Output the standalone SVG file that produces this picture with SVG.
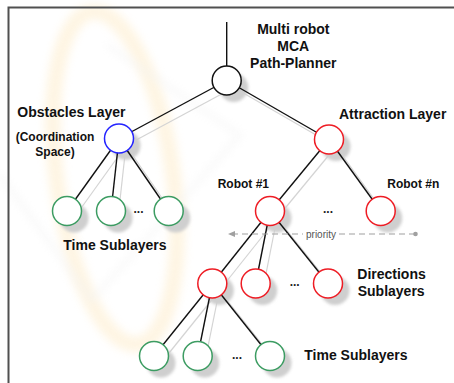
<svg xmlns="http://www.w3.org/2000/svg" width="454" height="383" viewBox="0 0 454 383">
<defs>
<filter id="blur" x="-50%" y="-50%" width="200%" height="200%"><feGaussianBlur stdDeviation="1.6"/></filter>
<filter id="wblur" x="-20%" y="-20%" width="140%" height="140%"><feGaussianBlur stdDeviation="4"/></filter>
<style>
.lbl{font-family:"Liberation Sans",Arial,sans-serif;font-weight:bold;fill:#111;}
.big{font-size:14px;}
.mid{font-size:12px;}
.dots{font-family:"Liberation Sans",Arial,sans-serif;font-weight:bold;font-size:12px;fill:#222;text-anchor:middle;}
.edge{stroke:#111;stroke-width:1.4;fill:none;}
.sedge{stroke:#d4d4d4;stroke-width:1.2;fill:none;}
.shadow{fill:#cfcfcf;filter:url(#blur);}
.node{fill:#fff;stroke-width:1.5;}
.blk{stroke:#111;}
.blu{stroke:#2424ff;}
.red{stroke:#ee1c24;}
.grn{stroke:#3c9c62;}
</style>
</defs>
<rect width="454" height="383" fill="#fff"/>
<!-- faint watermark -->
<g id="watermark" opacity="0.35">
<ellipse cx="115" cy="178" rx="58" ry="168" transform="rotate(-8 115 178)" fill="none" stroke="#fde3b0" stroke-width="16" filter="url(#wblur)"/>
<path d="M107,45 L240,135 L92,300 L0,175" fill="none" stroke="#e0e0e0" stroke-width="3" filter="url(#wblur)"/>
</g>
<!-- frame -->
<path d="M8.5,383 L8.5,7.5 L454,7.5" fill="none" stroke="#505050" stroke-width="2"/>
<!-- connectors -->
<g id="connectors">
<g id="shadow-edges">
<line class="sedge" x1="233.7" y1="87.5" x2="126" y2="145.5"/>
<line class="sedge" x1="233.7" y1="87.5" x2="336" y2="146.5"/>
<line class="sedge" x1="126" y1="145.5" x2="74" y2="218"/>
<line class="sedge" x1="126" y1="145.5" x2="118" y2="218"/>
<line class="sedge" x1="126" y1="145.5" x2="175.7" y2="218"/>
<line class="sedge" x1="336" y1="146.5" x2="277" y2="218"/>
<line class="sedge" x1="336" y1="146.5" x2="387.7" y2="218"/>
<line class="sedge" x1="277" y1="218" x2="219.3" y2="290.5"/>
<line class="sedge" x1="277" y1="218" x2="262.7" y2="290.5"/>
<line class="sedge" x1="277" y1="218" x2="335" y2="290.5"/>
<line class="sedge" x1="219.3" y1="290.5" x2="161" y2="363"/>
<line class="sedge" x1="219.3" y1="290.5" x2="204.7" y2="363"/>
<line class="sedge" x1="219.3" y1="290.5" x2="277" y2="363"/>
</g>
<g id="shadows">
<circle class="shadow" cx="233.7" cy="87.5" r="14.5"/>
<circle class="shadow" cx="126" cy="145.5" r="14.5"/>
<circle class="shadow" cx="336" cy="146.5" r="14.5"/>
<circle class="shadow" cx="74" cy="218" r="14.5"/>
<circle class="shadow" cx="118" cy="218" r="14.5"/>
<circle class="shadow" cx="175.7" cy="218" r="14.5"/>
<circle class="shadow" cx="277" cy="218" r="14.5"/>
<circle class="shadow" cx="387.7" cy="218" r="14.5"/>
<circle class="shadow" cx="219.3" cy="290.5" r="14.5"/>
<circle class="shadow" cx="262.7" cy="290.5" r="14.5"/>
<circle class="shadow" cx="335" cy="290.5" r="14.5"/>
<circle class="shadow" cx="161" cy="363" r="14.5"/>
<circle class="shadow" cx="204.7" cy="363" r="14.5"/>
<circle class="shadow" cx="277" cy="363" r="14.5"/>
</g>
<line class="edge" x1="226.7" y1="22" x2="226.7" y2="66"/>
<line class="edge" x1="226.7" y1="80.5" x2="119" y2="138.5"/>
<line class="edge" x1="226.7" y1="80.5" x2="329" y2="139.5"/>
<line class="edge" x1="119" y1="138.5" x2="67" y2="211"/>
<line class="edge" x1="119" y1="138.5" x2="111" y2="211"/>
<line class="edge" x1="119" y1="138.5" x2="168.7" y2="211"/>
<line class="edge" x1="329" y1="139.5" x2="270" y2="211"/>
<line class="edge" x1="329" y1="139.5" x2="380.7" y2="211"/>
<line class="edge" x1="270" y1="211" x2="212.3" y2="283.5"/>
<line class="edge" x1="270" y1="211" x2="255.7" y2="283.5"/>
<line class="edge" x1="270" y1="211" x2="328" y2="283.5"/>
<line class="edge" x1="212.3" y1="283.5" x2="154" y2="356"/>
<line class="edge" x1="212.3" y1="283.5" x2="197.7" y2="356"/>
<line class="edge" x1="212.3" y1="283.5" x2="270" y2="356"/>
</g>
<!-- nodes -->
<g id="root"><circle class="node blk" cx="226.7" cy="80.5" r="14.5"/></g>
<g id="obstacles"><circle class="node blu" cx="119" cy="138.5" r="14.5"/></g>
<g id="attraction"><circle class="node red" cx="329" cy="139.5" r="14.5"/></g>
<g id="obs-time-1"><circle class="node grn" cx="67" cy="211" r="14.5"/></g>
<g id="obs-time-2"><circle class="node grn" cx="111" cy="211" r="14.5"/></g>
<g id="obs-time-3"><circle class="node grn" cx="168.7" cy="211" r="14.5"/></g>
<g id="robot-1"><circle class="node red" cx="270" cy="211" r="14.5"/></g>
<g id="robot-n"><circle class="node red" cx="380.7" cy="211" r="14.5"/></g>
<g id="dir-1"><circle class="node red" cx="212.3" cy="283.5" r="14.5"/></g>
<g id="dir-2"><circle class="node red" cx="255.7" cy="283.5" r="14.5"/></g>
<g id="dir-3"><circle class="node red" cx="328" cy="283.5" r="14.5"/></g>
<g id="time-1"><circle class="node grn" cx="154" cy="356" r="14.5"/></g>
<g id="time-2"><circle class="node grn" cx="197.7" cy="356" r="14.5"/></g>
<g id="time-3"><circle class="node grn" cx="270" cy="356" r="14.5"/></g>
<!-- priority -->
<g id="priority">
<line x1="232" y1="234" x2="303" y2="234" stroke="#a0a0a0" stroke-width="1.2" stroke-dasharray="6,4"/>
<line x1="339" y1="234" x2="414" y2="234" stroke="#a0a0a0" stroke-width="1.2" stroke-dasharray="6,4"/>
<path d="M228,234 L235,231 L235,237 Z" fill="#a0a0a0"/>
<circle cx="415.5" cy="234" r="2.3" fill="#a0a0a0"/>
<text x="321" y="237.5" font-family="'Liberation Sans',Arial,sans-serif" font-size="10" fill="#555" text-anchor="middle">priority</text>
</g>
<!-- labels -->
<g id="labels">
<text class="lbl big" x="293.3" y="34.3" text-anchor="middle">Multi robot</text>
<text class="lbl big" x="293.3" y="51" text-anchor="middle">MCA</text>
<text class="lbl big" x="293.3" y="67.7" text-anchor="middle">Path-Planner</text>
<text class="lbl big" x="17.3" y="116.5">Obstacles Layer</text>
<text class="lbl mid" x="55" y="141" text-anchor="middle">(Coordination</text>
<text class="lbl mid" x="55" y="155.7" text-anchor="middle">Space)</text>
<text class="lbl big" x="339" y="119">Attraction Layer</text>
<text class="lbl mid" x="217.7" y="188.3">Robot #1</text>
<text class="lbl mid" x="387.3" y="188.3">Robot #n</text>
<text class="lbl big" x="63.3" y="250">Time Sublayers</text>
<text class="lbl big" x="357.3" y="279.3">Directions</text>
<text class="lbl big" x="357.7" y="296">Sublayers</text>
<text class="lbl big" x="304.3" y="360">Time Sublayers</text>
<text class="dots" x="138.5" y="213">...</text>
<text class="dots" x="328" y="213">...</text>
<text class="dots" x="294.7" y="286">...</text>
<text class="dots" x="237" y="358.5">...</text>
</g>
</svg>
